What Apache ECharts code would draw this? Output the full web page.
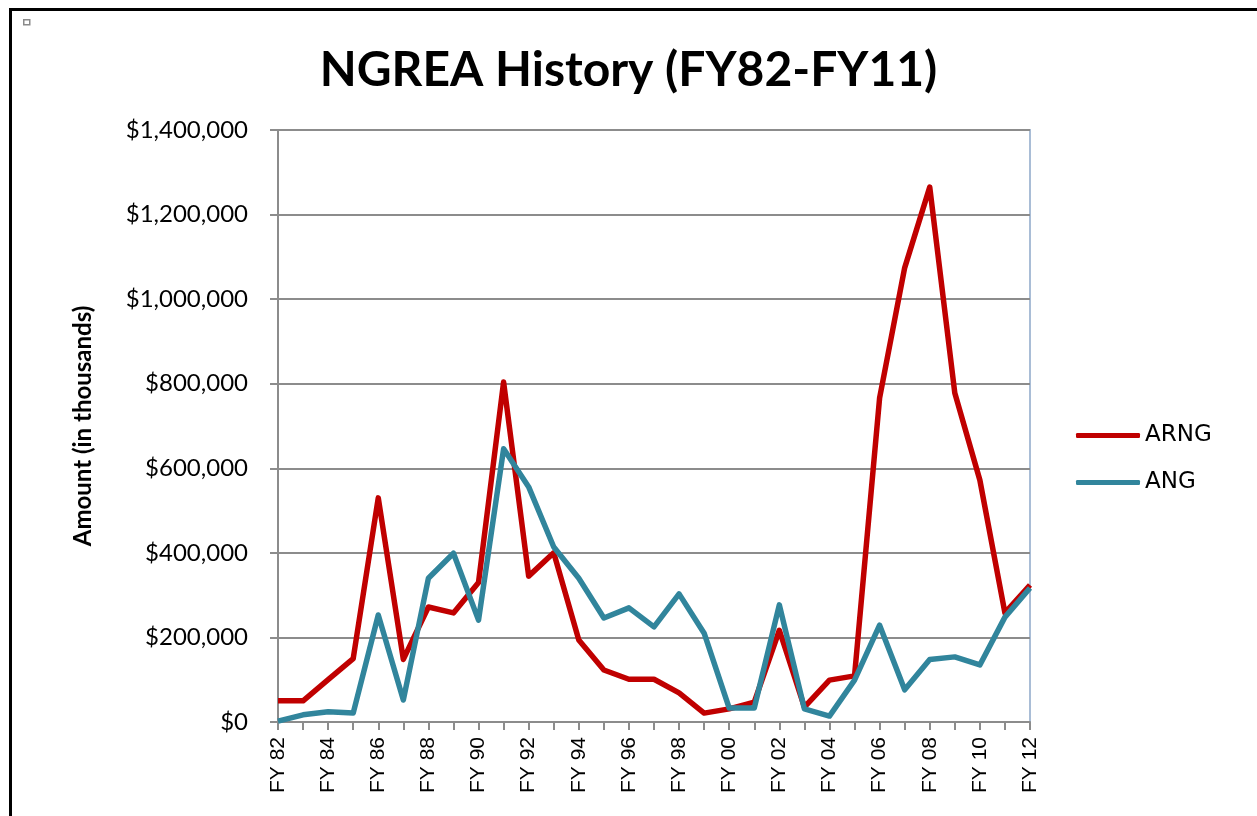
<!DOCTYPE html>
<html>
<head>
<meta charset="utf-8">
<script src="https://cdn.jsdelivr.net/npm/echarts@6/dist/echarts.min.js"></script>
<style>
	html, body {
		margin: 0;
		padding: 0;
		background: #fff;
	}
	.frame {
		position: absolute;
		left: 9px;
		top: 8px;
		width: 1248px;
		height: 808px;
		border-left: 3px solid #000;
		border-top: 3px solid #000;
		box-sizing: border-box;
	}
	#chart {
		position: absolute;
		left: 0;
		top: 0;
		width: 1257px;
		height: 816px;
	}
</style>
</head>
<body>
<div class="frame"></div>
<div id="chart"></div>
<script>
// fiscal years FY 82 .. FY 12
const years = ['FY 82', 'FY 83', 'FY 84', 'FY 85', 'FY 86', 'FY 87', 'FY 88', 'FY 89', 'FY 90', 'FY 91',
	'FY 92', 'FY 93', 'FY 94', 'FY 95', 'FY 96', 'FY 97', 'FY 98', 'FY 99', 'FY 00', 'FY 01',
	'FY 02', 'FY 03', 'FY 04', 'FY 05', 'FY 06', 'FY 07', 'FY 08', 'FY 09', 'FY 10', 'FY 11', 'FY 12']

// amounts in thousands
const arng = [50000, 50000, 100000, 150000, 530000, 148000, 272000, 258000, 330000, 804000,
	345000, 400000, 194000, 123000, 101000, 101000, 69000, 21000, 31000, 47000,
	217000, 35000, 99000, 109000, 766000, 1074000, 1265000, 778000, 572000, 258000, 324000]
const ang = [2000, 17000, 24000, 21000, 253000, 52000, 340000, 399000, 241000, 646000,
	556000, 414000, 340000, 246000, 270000, 225000, 303000, 210000, 33000, 33000,
	277000, 31000, 14000, 99000, 229000, 76000, 148000, 154000, 135000, 248000, 317000]

const yTicks = { min: 0, max: 1400000, interval: 200000 }

const myChart = echarts.init(document.getElementById('chart'), null, { renderer: 'canvas' })

const option = {
	backgroundColor: 'transparent',
	animation: false,
	title: {
		text: 'NGREA History (FY82-FY11)',
		left: 'center',
		top: 42,
		textStyle: {
			fontFamily: 'Lato',
			fontWeight: 'bold',
			fontSize: 48,
			color: '#000',
		},
	},
	legend: {
		orient: 'vertical',
		left: 1071,
		top: 419,
		itemWidth: 64,
		itemHeight: 5,
		itemGap: 24,
		icon: 'roundRect',
		textStyle: {
			fontFamily: 'DejaVu Sans',
			fontSize: 23,
			color: '#000',
		},
		data: ['ARNG', 'ANG'],
	},
	graphic: [
		{
			type: 'rect',
			left: 23,
			top: 19,
			shape: { width: 6, height: 5 },
			style: { fill: '#fff', stroke: '#8a8a8a', lineWidth: 1.5 },
		},
	],
	grid: {
		left: 278,
		right: 227,
		top: 130,
		bottom: 94,
		show: true,
		borderColor: '#A9BDD6',
		borderWidth: 2,
	},
	xAxis: {
		type: 'category',
		data: years,
		boundaryGap: false,
		axisLine: { lineStyle: { color: '#8c8c8c', width: 2 } },
		axisTick: { show: true, interval: 0, length: 8, lineStyle: { color: '#8c8c8c', width: 2 } },
		axisLabel: {
			interval: 1,
			rotate: 90,
			margin: 15,
			fontFamily: 'Liberation Sans',
			fontSize: 21,
			color: '#000',
		},
	},
	yAxis: {
		type: 'value',
		min: yTicks.min,
		max: yTicks.max,
		interval: yTicks.interval,
		name: 'Amount (in thousands)',
		nameLocation: 'middle',
		nameGap: 183,
		nameTextStyle: {
			fontFamily: 'Lato',
			fontWeight: 'bold',
			fontSize: 24,
			color: '#000',
		},
		axisLine: { show: true, lineStyle: { color: '#8c8c8c', width: 2 } },
		axisTick: { show: true, length: 8, lineStyle: { color: '#8c8c8c', width: 2 } },
		axisLabel: {
			margin: 30,
			fontFamily: 'Lato',
			fontSize: 24,
			color: '#000',
			formatter: (v) => '$' + v.toLocaleString('en-US'),
		},
		splitLine: { lineStyle: { color: '#8c8c8c', width: 2 } },
	},
	series: [
		{
			name: 'ARNG',
			type: 'line',
			data: arng,
			symbol: 'none',
			lineStyle: { color: '#C00000', width: 5.5, join: 'round' },
			itemStyle: { color: '#C00000' },
		},
		{
			name: 'ANG',
			type: 'line',
			data: ang,
			symbol: 'none',
			lineStyle: { color: '#31859C', width: 5.5, join: 'round' },
			itemStyle: { color: '#31859C' },
		},
	],
}

myChart.setOption(option)
</script>
</body>
</html>
